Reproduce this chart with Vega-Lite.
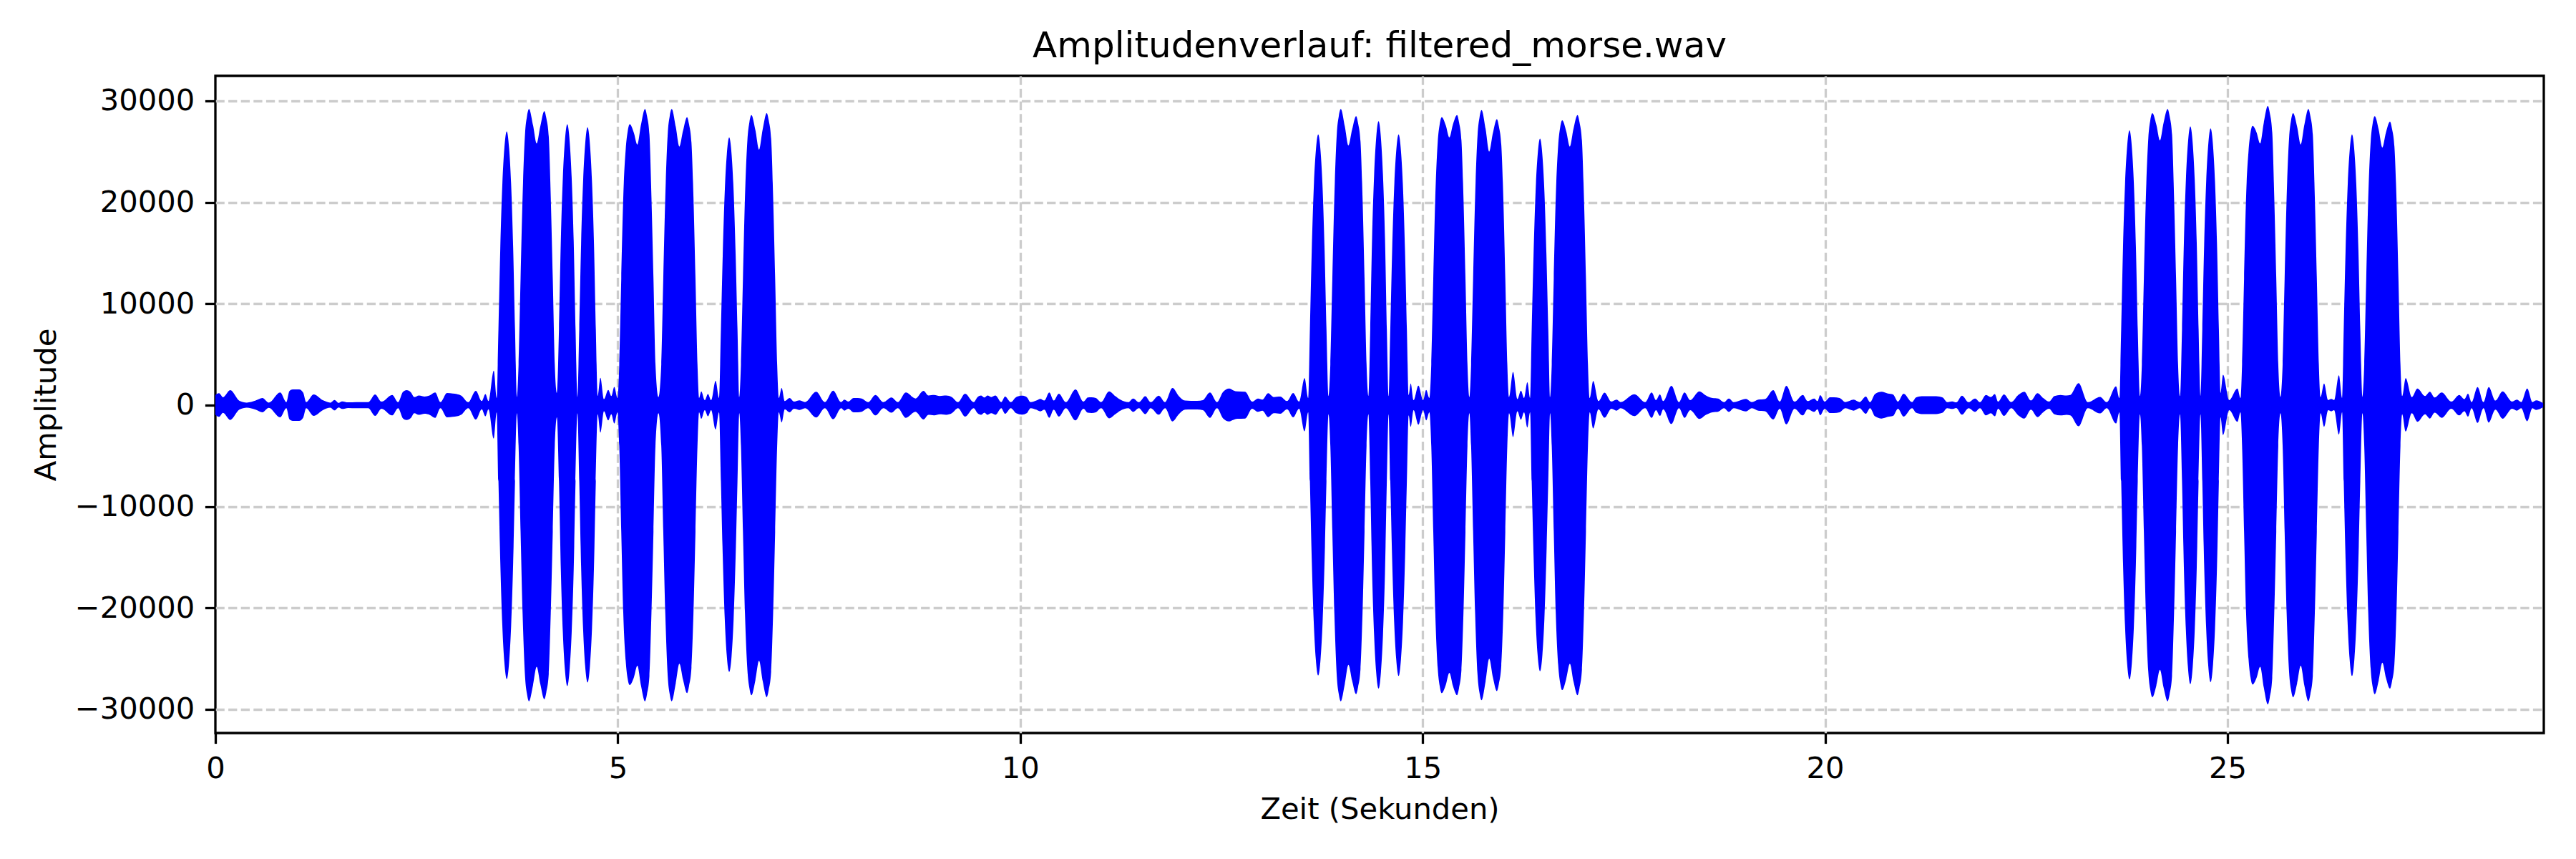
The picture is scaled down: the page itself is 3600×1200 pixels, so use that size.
{
  "$schema": "https://vega.github.io/schema/vega-lite/v6.json",
  "width": 3254,
  "height": 918,
  "autosize": {"type": "none"},
  "padding": {"left": 301, "top": 106, "right": 45, "bottom": 176},
  "background": "white",
  "title": {
    "text": "Amplitudenverlauf: filtered_morse.wav",
    "font": "DejaVu Sans",
    "fontSize": 50,
    "fontWeight": "normal",
    "color": "black",
    "anchor": "middle",
    "frame": "group",
    "baseline": "alphabetic",
    "offset": 25,
    "dy": 49
  },
  "data": {
    "values": [
      {"t": 0.000, "hi": 1000, "lo": -950},
      {"t": 0.045, "hi": 1180, "lo": -1150},
      {"t": 0.095, "hi": 780, "lo": -760},
      {"t": 0.184, "hi": 1480, "lo": -1460},
      {"t": 0.300, "hi": 420, "lo": -430},
      {"t": 0.390, "hi": 250, "lo": -250},
      {"t": 0.500, "hi": 450, "lo": -450},
      {"t": 0.584, "hi": 700, "lo": -700},
      {"t": 0.663, "hi": 250, "lo": -260},
      {"t": 0.805, "hi": 1250, "lo": -1200},
      {"t": 0.882, "hi": 300, "lo": -300},
      {"t": 0.920, "hi": 1400, "lo": -1400},
      {"t": 0.960, "hi": 1550, "lo": -1550},
      {"t": 1.040, "hi": 1550, "lo": -1550},
      {"t": 1.090, "hi": 1250, "lo": -1250},
      {"t": 1.128, "hi": 300, "lo": -300},
      {"t": 1.220, "hi": 1060, "lo": -1060},
      {"t": 1.339, "hi": 470, "lo": -470},
      {"t": 1.427, "hi": 250, "lo": -250},
      {"t": 1.481, "hi": 520, "lo": -520},
      {"t": 1.531, "hi": 230, "lo": -230},
      {"t": 1.575, "hi": 375, "lo": -375},
      {"t": 1.650, "hi": 280, "lo": -280},
      {"t": 1.750, "hi": 300, "lo": -300},
      {"t": 1.900, "hi": 300, "lo": -300},
      {"t": 1.984, "hi": 1060, "lo": -1060},
      {"t": 2.064, "hi": 350, "lo": -350},
      {"t": 2.197, "hi": 1010, "lo": -1010},
      {"t": 2.271, "hi": 300, "lo": -300},
      {"t": 2.330, "hi": 1300, "lo": -1300},
      {"t": 2.375, "hi": 1480, "lo": -1460},
      {"t": 2.430, "hi": 1250, "lo": -1250},
      {"t": 2.470, "hi": 800, "lo": -800},
      {"t": 2.530, "hi": 960, "lo": -960},
      {"t": 2.600, "hi": 850, "lo": -850},
      {"t": 2.660, "hi": 950, "lo": -950},
      {"t": 2.731, "hi": 1250, "lo": -1250},
      {"t": 2.796, "hi": 300, "lo": -300},
      {"t": 2.878, "hi": 1200, "lo": -1200},
      {"t": 2.950, "hi": 1150, "lo": -1150},
      {"t": 3.000, "hi": 1100, "lo": -1100},
      {"t": 3.056, "hi": 940, "lo": -940},
      {"t": 3.142, "hi": 300, "lo": -300},
      {"t": 3.236, "hi": 1420, "lo": -1420},
      {"t": 3.310, "hi": 400, "lo": -400},
      {"t": 3.355, "hi": 1100, "lo": -1100},
      {"t": 3.393, "hi": 400, "lo": -400},
      {"t": 3.459, "hi": 3400, "lo": -3300},
      {"t": 3.495, "hi": 700, "lo": -700},
      {"t": 3.517, "hi": 7500, "lo": -7500},
      {"t": 3.540, "hi": 15500, "lo": -15500},
      {"t": 3.565, "hi": 21700, "lo": -21700},
      {"t": 3.590, "hi": 25300, "lo": -25300},
      {"t": 3.620, "hi": 27000, "lo": -27000},
      {"t": 3.650, "hi": 25300, "lo": -25300},
      {"t": 3.675, "hi": 21700, "lo": -21700},
      {"t": 3.700, "hi": 15500, "lo": -15500},
      {"t": 3.723, "hi": 7500, "lo": -7500},
      {"t": 3.746, "hi": 800, "lo": -800},
      {"t": 3.767, "hi": 4000, "lo": -4000},
      {"t": 3.792, "hi": 12500, "lo": -12500},
      {"t": 3.817, "hi": 20500, "lo": -20500},
      {"t": 3.847, "hi": 26700, "lo": -26700},
      {"t": 3.872, "hi": 28500, "lo": -28500},
      {"t": 3.897, "hi": 29200, "lo": -29200},
      {"t": 3.947, "hi": 27600, "lo": -27600},
      {"t": 3.992, "hi": 25800, "lo": -25800},
      {"t": 4.037, "hi": 27500, "lo": -27500},
      {"t": 4.087, "hi": 29000, "lo": -29000},
      {"t": 4.112, "hi": 28300, "lo": -28300},
      {"t": 4.142, "hi": 26500, "lo": -26500},
      {"t": 4.167, "hi": 20500, "lo": -20500},
      {"t": 4.192, "hi": 12500, "lo": -12500},
      {"t": 4.217, "hi": 4000, "lo": -4000},
      {"t": 4.243, "hi": 1200, "lo": -1200},
      {"t": 4.269, "hi": 7500, "lo": -7500},
      {"t": 4.292, "hi": 16200, "lo": -16200},
      {"t": 4.317, "hi": 22400, "lo": -22400},
      {"t": 4.342, "hi": 26000, "lo": -26000},
      {"t": 4.372, "hi": 27700, "lo": -27700},
      {"t": 4.402, "hi": 26000, "lo": -26000},
      {"t": 4.427, "hi": 22400, "lo": -22400},
      {"t": 4.452, "hi": 16200, "lo": -16200},
      {"t": 4.475, "hi": 7500, "lo": -7500},
      {"t": 4.498, "hi": 800, "lo": -800},
      {"t": 4.521, "hi": 7500, "lo": -7500},
      {"t": 4.544, "hi": 15900, "lo": -15900},
      {"t": 4.569, "hi": 22100, "lo": -22100},
      {"t": 4.594, "hi": 25700, "lo": -25700},
      {"t": 4.624, "hi": 27400, "lo": -27350},
      {"t": 4.654, "hi": 25700, "lo": -25700},
      {"t": 4.679, "hi": 22100, "lo": -22100},
      {"t": 4.704, "hi": 15900, "lo": -15900},
      {"t": 4.727, "hi": 7500, "lo": -7500},
      {"t": 4.750, "hi": 900, "lo": -900},
      {"t": 4.784, "hi": 2700, "lo": -2700},
      {"t": 4.828, "hi": 600, "lo": -600},
      {"t": 4.881, "hi": 1500, "lo": -1500},
      {"t": 4.920, "hi": 900, "lo": -900},
      {"t": 4.956, "hi": 1800, "lo": -1800},
      {"t": 4.996, "hi": 700, "lo": -700},
      {"t": 5.018, "hi": 4000, "lo": -4000},
      {"t": 5.043, "hi": 12500, "lo": -12500},
      {"t": 5.068, "hi": 20500, "lo": -20500},
      {"t": 5.098, "hi": 25200, "lo": -25200},
      {"t": 5.123, "hi": 27000, "lo": -27000},
      {"t": 5.148, "hi": 27700, "lo": -27600},
      {"t": 5.198, "hi": 26900, "lo": -26900},
      {"t": 5.243, "hi": 25700, "lo": -25700},
      {"t": 5.288, "hi": 27650, "lo": -27650},
      {"t": 5.338, "hi": 29200, "lo": -29200},
      {"t": 5.363, "hi": 28500, "lo": -28500},
      {"t": 5.393, "hi": 26700, "lo": -26700},
      {"t": 5.418, "hi": 20500, "lo": -20500},
      {"t": 5.443, "hi": 12500, "lo": -12500},
      {"t": 5.468, "hi": 4000, "lo": -4000},
      {"t": 5.505, "hi": 800, "lo": -800},
      {"t": 5.540, "hi": 4000, "lo": -4000},
      {"t": 5.565, "hi": 12500, "lo": -12500},
      {"t": 5.590, "hi": 20500, "lo": -20500},
      {"t": 5.620, "hi": 26700, "lo": -26700},
      {"t": 5.645, "hi": 28500, "lo": -28500},
      {"t": 5.670, "hi": 29200, "lo": -29200},
      {"t": 5.720, "hi": 27450, "lo": -27450},
      {"t": 5.765, "hi": 25500, "lo": -25500},
      {"t": 5.810, "hi": 27050, "lo": -27050},
      {"t": 5.860, "hi": 28400, "lo": -28400},
      {"t": 5.885, "hi": 27700, "lo": -27700},
      {"t": 5.915, "hi": 25900, "lo": -25900},
      {"t": 5.940, "hi": 20500, "lo": -20500},
      {"t": 5.965, "hi": 12500, "lo": -12500},
      {"t": 5.990, "hi": 4000, "lo": -4000},
      {"t": 6.010, "hi": 700, "lo": -700},
      {"t": 6.037, "hi": 1350, "lo": -1350},
      {"t": 6.080, "hi": 500, "lo": -500},
      {"t": 6.120, "hi": 1100, "lo": -1100},
      {"t": 6.160, "hi": 500, "lo": -500},
      {"t": 6.215, "hi": 2400, "lo": -2400},
      {"t": 6.258, "hi": 700, "lo": -700},
      {"t": 6.281, "hi": 7500, "lo": -7500},
      {"t": 6.304, "hi": 14900, "lo": -14900},
      {"t": 6.329, "hi": 21100, "lo": -21100},
      {"t": 6.354, "hi": 24700, "lo": -24700},
      {"t": 6.384, "hi": 26400, "lo": -26300},
      {"t": 6.414, "hi": 24700, "lo": -24700},
      {"t": 6.439, "hi": 21100, "lo": -21100},
      {"t": 6.464, "hi": 14900, "lo": -14900},
      {"t": 6.487, "hi": 7500, "lo": -7500},
      {"t": 6.509, "hi": 800, "lo": -800},
      {"t": 6.530, "hi": 4000, "lo": -4000},
      {"t": 6.555, "hi": 12500, "lo": -12500},
      {"t": 6.580, "hi": 20500, "lo": -20500},
      {"t": 6.610, "hi": 26100, "lo": -26100},
      {"t": 6.635, "hi": 27900, "lo": -27900},
      {"t": 6.660, "hi": 28600, "lo": -28600},
      {"t": 6.710, "hi": 27100, "lo": -27100},
      {"t": 6.755, "hi": 25200, "lo": -25200},
      {"t": 6.800, "hi": 27200, "lo": -27200},
      {"t": 6.850, "hi": 28800, "lo": -28800},
      {"t": 6.875, "hi": 28100, "lo": -28100},
      {"t": 6.905, "hi": 26300, "lo": -26300},
      {"t": 6.930, "hi": 20500, "lo": -20500},
      {"t": 6.955, "hi": 12500, "lo": -12500},
      {"t": 6.980, "hi": 4000, "lo": -4000},
      {"t": 7.000, "hi": 700, "lo": -700},
      {"t": 7.036, "hi": 1700, "lo": -1700},
      {"t": 7.075, "hi": 400, "lo": -400},
      {"t": 7.134, "hi": 700, "lo": -700},
      {"t": 7.190, "hi": 350, "lo": -350},
      {"t": 7.260, "hi": 470, "lo": -470},
      {"t": 7.326, "hi": 300, "lo": -300},
      {"t": 7.465, "hi": 1320, "lo": -1220},
      {"t": 7.573, "hi": 300, "lo": -300},
      {"t": 7.676, "hi": 1430, "lo": -1380},
      {"t": 7.776, "hi": 300, "lo": -300},
      {"t": 7.815, "hi": 540, "lo": -540},
      {"t": 7.863, "hi": 350, "lo": -350},
      {"t": 7.930, "hi": 700, "lo": -700},
      {"t": 7.982, "hi": 700, "lo": -700},
      {"t": 8.030, "hi": 650, "lo": -650},
      {"t": 8.110, "hi": 300, "lo": -300},
      {"t": 8.201, "hi": 1010, "lo": -1010},
      {"t": 8.301, "hi": 300, "lo": -300},
      {"t": 8.400, "hi": 750, "lo": -750},
      {"t": 8.479, "hi": 300, "lo": -300},
      {"t": 8.579, "hi": 1250, "lo": -1250},
      {"t": 8.698, "hi": 660, "lo": -660},
      {"t": 8.798, "hi": 1410, "lo": -1410},
      {"t": 8.860, "hi": 950, "lo": -950},
      {"t": 8.930, "hi": 1000, "lo": -1000},
      {"t": 9.000, "hi": 900, "lo": -900},
      {"t": 9.080, "hi": 950, "lo": -950},
      {"t": 9.150, "hi": 800, "lo": -800},
      {"t": 9.227, "hi": 300, "lo": -300},
      {"t": 9.315, "hi": 1130, "lo": -1130},
      {"t": 9.422, "hi": 300, "lo": -300},
      {"t": 9.470, "hi": 800, "lo": -800},
      {"t": 9.514, "hi": 950, "lo": -950},
      {"t": 9.555, "hi": 750, "lo": -750},
      {"t": 9.593, "hi": 950, "lo": -950},
      {"t": 9.640, "hi": 800, "lo": -800},
      {"t": 9.693, "hi": 950, "lo": -950},
      {"t": 9.764, "hi": 300, "lo": -300},
      {"t": 9.812, "hi": 850, "lo": -850},
      {"t": 9.883, "hi": 300, "lo": -300},
      {"t": 9.950, "hi": 800, "lo": -800},
      {"t": 10.023, "hi": 940, "lo": -940},
      {"t": 10.080, "hi": 800, "lo": -800},
      {"t": 10.130, "hi": 300, "lo": -300},
      {"t": 10.200, "hi": 450, "lo": -450},
      {"t": 10.249, "hi": 610, "lo": -610},
      {"t": 10.300, "hi": 450, "lo": -450},
      {"t": 10.361, "hi": 1250, "lo": -1250},
      {"t": 10.416, "hi": 450, "lo": -450},
      {"t": 10.480, "hi": 1130, "lo": -1130},
      {"t": 10.567, "hi": 300, "lo": -300},
      {"t": 10.687, "hi": 1550, "lo": -1500},
      {"t": 10.786, "hi": 350, "lo": -350},
      {"t": 10.840, "hi": 750, "lo": -750},
      {"t": 10.886, "hi": 775, "lo": -775},
      {"t": 10.940, "hi": 700, "lo": -700},
      {"t": 11.005, "hi": 300, "lo": -300},
      {"t": 11.104, "hi": 1360, "lo": -1300},
      {"t": 11.180, "hi": 900, "lo": -900},
      {"t": 11.244, "hi": 540, "lo": -540},
      {"t": 11.343, "hi": 300, "lo": -300},
      {"t": 11.403, "hi": 660, "lo": -660},
      {"t": 11.474, "hi": 300, "lo": -300},
      {"t": 11.554, "hi": 890, "lo": -890},
      {"t": 11.621, "hi": 300, "lo": -300},
      {"t": 11.721, "hi": 940, "lo": -940},
      {"t": 11.800, "hi": 300, "lo": -300},
      {"t": 11.892, "hi": 1690, "lo": -1600},
      {"t": 11.970, "hi": 900, "lo": -900},
      {"t": 12.047, "hi": 450, "lo": -450},
      {"t": 12.120, "hi": 420, "lo": -420},
      {"t": 12.198, "hi": 420, "lo": -420},
      {"t": 12.270, "hi": 500, "lo": -500},
      {"t": 12.357, "hi": 1250, "lo": -1250},
      {"t": 12.445, "hi": 300, "lo": -300},
      {"t": 12.520, "hi": 1300, "lo": -1300},
      {"t": 12.596, "hi": 1645, "lo": -1600},
      {"t": 12.650, "hi": 1450, "lo": -1450},
      {"t": 12.695, "hi": 1350, "lo": -1350},
      {"t": 12.795, "hi": 1320, "lo": -1320},
      {"t": 12.882, "hi": 350, "lo": -350},
      {"t": 12.954, "hi": 660, "lo": -660},
      {"t": 13.010, "hi": 550, "lo": -550},
      {"t": 13.080, "hi": 1180, "lo": -1180},
      {"t": 13.150, "hi": 800, "lo": -800},
      {"t": 13.230, "hi": 850, "lo": -850},
      {"t": 13.316, "hi": 400, "lo": -400},
      {"t": 13.391, "hi": 1200, "lo": -1200},
      {"t": 13.465, "hi": 350, "lo": -350},
      {"t": 13.533, "hi": 2670, "lo": -2580},
      {"t": 13.578, "hi": 700, "lo": -700},
      {"t": 13.599, "hi": 7500, "lo": -7500},
      {"t": 13.622, "hi": 15200, "lo": -15200},
      {"t": 13.647, "hi": 21400, "lo": -21400},
      {"t": 13.672, "hi": 25000, "lo": -25000},
      {"t": 13.702, "hi": 26700, "lo": -26650},
      {"t": 13.732, "hi": 25000, "lo": -25000},
      {"t": 13.757, "hi": 21400, "lo": -21400},
      {"t": 13.782, "hi": 15200, "lo": -15200},
      {"t": 13.805, "hi": 7500, "lo": -7500},
      {"t": 13.830, "hi": 900, "lo": -900},
      {"t": 13.853, "hi": 4000, "lo": -4000},
      {"t": 13.878, "hi": 12500, "lo": -12500},
      {"t": 13.903, "hi": 20500, "lo": -20500},
      {"t": 13.933, "hi": 26700, "lo": -26700},
      {"t": 13.958, "hi": 28500, "lo": -28500},
      {"t": 13.983, "hi": 29200, "lo": -29200},
      {"t": 14.033, "hi": 27500, "lo": -27500},
      {"t": 14.078, "hi": 25600, "lo": -25600},
      {"t": 14.123, "hi": 27150, "lo": -27150},
      {"t": 14.173, "hi": 28500, "lo": -28500},
      {"t": 14.198, "hi": 27800, "lo": -27800},
      {"t": 14.228, "hi": 26000, "lo": -26000},
      {"t": 14.253, "hi": 20500, "lo": -20500},
      {"t": 14.278, "hi": 12500, "lo": -12500},
      {"t": 14.303, "hi": 4000, "lo": -4000},
      {"t": 14.326, "hi": 900, "lo": -900},
      {"t": 14.349, "hi": 7500, "lo": -7500},
      {"t": 14.372, "hi": 16500, "lo": -16500},
      {"t": 14.397, "hi": 22700, "lo": -22700},
      {"t": 14.422, "hi": 26300, "lo": -26300},
      {"t": 14.452, "hi": 28000, "lo": -27960},
      {"t": 14.482, "hi": 26300, "lo": -26300},
      {"t": 14.507, "hi": 22700, "lo": -22700},
      {"t": 14.532, "hi": 16500, "lo": -16500},
      {"t": 14.555, "hi": 7500, "lo": -7500},
      {"t": 14.577, "hi": 900, "lo": -900},
      {"t": 14.598, "hi": 7500, "lo": -7500},
      {"t": 14.621, "hi": 15200, "lo": -15200},
      {"t": 14.646, "hi": 21400, "lo": -21400},
      {"t": 14.671, "hi": 25000, "lo": -25000},
      {"t": 14.701, "hi": 26700, "lo": -26700},
      {"t": 14.731, "hi": 25000, "lo": -25000},
      {"t": 14.756, "hi": 21400, "lo": -21400},
      {"t": 14.781, "hi": 15200, "lo": -15200},
      {"t": 14.804, "hi": 7500, "lo": -7500},
      {"t": 14.826, "hi": 1000, "lo": -1000},
      {"t": 14.852, "hi": 2130, "lo": -2130},
      {"t": 14.887, "hi": 500, "lo": -500},
      {"t": 14.947, "hi": 1930, "lo": -1930},
      {"t": 15.006, "hi": 500, "lo": -500},
      {"t": 15.044, "hi": 1500, "lo": -1500},
      {"t": 15.084, "hi": 700, "lo": -700},
      {"t": 15.107, "hi": 4000, "lo": -4000},
      {"t": 15.132, "hi": 12500, "lo": -12500},
      {"t": 15.157, "hi": 20500, "lo": -20500},
      {"t": 15.187, "hi": 25900, "lo": -25900},
      {"t": 15.212, "hi": 27700, "lo": -27700},
      {"t": 15.237, "hi": 28400, "lo": -28400},
      {"t": 15.287, "hi": 27600, "lo": -27600},
      {"t": 15.332, "hi": 26400, "lo": -26400},
      {"t": 15.377, "hi": 27700, "lo": -27700},
      {"t": 15.427, "hi": 28600, "lo": -28600},
      {"t": 15.452, "hi": 27900, "lo": -27900},
      {"t": 15.482, "hi": 26100, "lo": -26100},
      {"t": 15.507, "hi": 20500, "lo": -20500},
      {"t": 15.532, "hi": 12500, "lo": -12500},
      {"t": 15.557, "hi": 4000, "lo": -4000},
      {"t": 15.580, "hi": 800, "lo": -800},
      {"t": 15.602, "hi": 4000, "lo": -4000},
      {"t": 15.627, "hi": 12500, "lo": -12500},
      {"t": 15.652, "hi": 20500, "lo": -20500},
      {"t": 15.682, "hi": 26600, "lo": -26600},
      {"t": 15.707, "hi": 28400, "lo": -28400},
      {"t": 15.732, "hi": 29100, "lo": -29100},
      {"t": 15.782, "hi": 27250, "lo": -27250},
      {"t": 15.827, "hi": 25000, "lo": -25000},
      {"t": 15.872, "hi": 26800, "lo": -26800},
      {"t": 15.922, "hi": 28200, "lo": -28200},
      {"t": 15.947, "hi": 27500, "lo": -27500},
      {"t": 15.977, "hi": 25700, "lo": -25700},
      {"t": 16.002, "hi": 20500, "lo": -20500},
      {"t": 16.027, "hi": 12500, "lo": -12500},
      {"t": 16.052, "hi": 4000, "lo": -4000},
      {"t": 16.074, "hi": 800, "lo": -800},
      {"t": 16.123, "hi": 3280, "lo": -3160},
      {"t": 16.177, "hi": 600, "lo": -600},
      {"t": 16.221, "hi": 1430, "lo": -1430},
      {"t": 16.260, "hi": 700, "lo": -700},
      {"t": 16.301, "hi": 2250, "lo": -2200},
      {"t": 16.335, "hi": 700, "lo": -700},
      {"t": 16.355, "hi": 7500, "lo": -7500},
      {"t": 16.378, "hi": 14800, "lo": -14800},
      {"t": 16.403, "hi": 21000, "lo": -21000},
      {"t": 16.428, "hi": 24600, "lo": -24600},
      {"t": 16.458, "hi": 26300, "lo": -26240},
      {"t": 16.488, "hi": 24600, "lo": -24600},
      {"t": 16.513, "hi": 21000, "lo": -21000},
      {"t": 16.538, "hi": 14800, "lo": -14800},
      {"t": 16.561, "hi": 7500, "lo": -7500},
      {"t": 16.583, "hi": 800, "lo": -800},
      {"t": 16.604, "hi": 4000, "lo": -4000},
      {"t": 16.629, "hi": 12500, "lo": -12500},
      {"t": 16.654, "hi": 20500, "lo": -20500},
      {"t": 16.684, "hi": 25600, "lo": -25600},
      {"t": 16.709, "hi": 27400, "lo": -27400},
      {"t": 16.734, "hi": 28100, "lo": -28100},
      {"t": 16.784, "hi": 27000, "lo": -27000},
      {"t": 16.829, "hi": 25500, "lo": -25500},
      {"t": 16.874, "hi": 27250, "lo": -27250},
      {"t": 16.924, "hi": 28600, "lo": -28600},
      {"t": 16.949, "hi": 27900, "lo": -27900},
      {"t": 16.979, "hi": 26100, "lo": -26100},
      {"t": 17.004, "hi": 20500, "lo": -20500},
      {"t": 17.029, "hi": 12500, "lo": -12500},
      {"t": 17.054, "hi": 4000, "lo": -4000},
      {"t": 17.076, "hi": 700, "lo": -700},
      {"t": 17.119, "hi": 2380, "lo": -2300},
      {"t": 17.184, "hi": 400, "lo": -400},
      {"t": 17.260, "hi": 1240, "lo": -1240},
      {"t": 17.345, "hi": 350, "lo": -350},
      {"t": 17.410, "hi": 540, "lo": -540},
      {"t": 17.459, "hi": 300, "lo": -300},
      {"t": 17.630, "hi": 1080, "lo": -1080},
      {"t": 17.765, "hi": 300, "lo": -300},
      {"t": 17.846, "hi": 1250, "lo": -1250},
      {"t": 17.899, "hi": 500, "lo": -500},
      {"t": 17.948, "hi": 1060, "lo": -1060},
      {"t": 17.989, "hi": 400, "lo": -400},
      {"t": 18.091, "hi": 1900, "lo": -1860},
      {"t": 18.185, "hi": 300, "lo": -300},
      {"t": 18.254, "hi": 1250, "lo": -1250},
      {"t": 18.324, "hi": 500, "lo": -500},
      {"t": 18.438, "hi": 1360, "lo": -1360},
      {"t": 18.520, "hi": 950, "lo": -950},
      {"t": 18.601, "hi": 700, "lo": -700},
      {"t": 18.670, "hi": 650, "lo": -650},
      {"t": 18.744, "hi": 300, "lo": -300},
      {"t": 18.805, "hi": 660, "lo": -660},
      {"t": 18.866, "hi": 300, "lo": -300},
      {"t": 19.017, "hi": 610, "lo": -610},
      {"t": 19.090, "hi": 300, "lo": -300},
      {"t": 19.170, "hi": 540, "lo": -540},
      {"t": 19.254, "hi": 600, "lo": -600},
      {"t": 19.356, "hi": 1480, "lo": -1410},
      {"t": 19.437, "hi": 350, "lo": -350},
      {"t": 19.519, "hi": 1900, "lo": -1880},
      {"t": 19.621, "hi": 350, "lo": -350},
      {"t": 19.723, "hi": 1010, "lo": -1010},
      {"t": 19.784, "hi": 400, "lo": -400},
      {"t": 19.865, "hi": 660, "lo": -660},
      {"t": 19.906, "hi": 400, "lo": -400},
      {"t": 19.939, "hi": 990, "lo": -990},
      {"t": 19.996, "hi": 350, "lo": -350},
      {"t": 20.060, "hi": 775, "lo": -775},
      {"t": 20.110, "hi": 775, "lo": -775},
      {"t": 20.180, "hi": 700, "lo": -700},
      {"t": 20.253, "hi": 300, "lo": -300},
      {"t": 20.355, "hi": 540, "lo": -540},
      {"t": 20.428, "hi": 300, "lo": -300},
      {"t": 20.506, "hi": 850, "lo": -850},
      {"t": 20.559, "hi": 300, "lo": -300},
      {"t": 20.620, "hi": 1100, "lo": -1100},
      {"t": 20.702, "hi": 1320, "lo": -1320},
      {"t": 20.780, "hi": 1150, "lo": -1150},
      {"t": 20.844, "hi": 1060, "lo": -1060},
      {"t": 20.906, "hi": 350, "lo": -350},
      {"t": 20.975, "hi": 1130, "lo": -1130},
      {"t": 21.081, "hi": 300, "lo": -300},
      {"t": 21.130, "hi": 750, "lo": -750},
      {"t": 21.200, "hi": 880, "lo": -880},
      {"t": 21.293, "hi": 890, "lo": -890},
      {"t": 21.380, "hi": 880, "lo": -880},
      {"t": 21.460, "hi": 750, "lo": -750},
      {"t": 21.517, "hi": 300, "lo": -300},
      {"t": 21.579, "hi": 375, "lo": -375},
      {"t": 21.630, "hi": 280, "lo": -280},
      {"t": 21.701, "hi": 940, "lo": -940},
      {"t": 21.783, "hi": 300, "lo": -300},
      {"t": 21.864, "hi": 660, "lo": -660},
      {"t": 21.925, "hi": 300, "lo": -300},
      {"t": 21.999, "hi": 1010, "lo": -1010},
      {"t": 22.060, "hi": 800, "lo": -800},
      {"t": 22.109, "hi": 1100, "lo": -1100},
      {"t": 22.150, "hi": 350, "lo": -350},
      {"t": 22.223, "hi": 1060, "lo": -1060},
      {"t": 22.313, "hi": 300, "lo": -300},
      {"t": 22.400, "hi": 1000, "lo": -1000},
      {"t": 22.476, "hi": 1320, "lo": -1320},
      {"t": 22.558, "hi": 450, "lo": -450},
      {"t": 22.639, "hi": 1175, "lo": -1175},
      {"t": 22.710, "hi": 700, "lo": -700},
      {"t": 22.782, "hi": 350, "lo": -350},
      {"t": 22.850, "hi": 900, "lo": -900},
      {"t": 22.925, "hi": 1010, "lo": -1010},
      {"t": 23.000, "hi": 950, "lo": -950},
      {"t": 23.047, "hi": 1000, "lo": -1000},
      {"t": 23.150, "hi": 2170, "lo": -2080},
      {"t": 23.265, "hi": 300, "lo": -300},
      {"t": 23.417, "hi": 820, "lo": -820},
      {"t": 23.500, "hi": 300, "lo": -300},
      {"t": 23.615, "hi": 1850, "lo": -1800},
      {"t": 23.657, "hi": 700, "lo": -700},
      {"t": 23.679, "hi": 7500, "lo": -7500},
      {"t": 23.702, "hi": 15600, "lo": -15600},
      {"t": 23.727, "hi": 21800, "lo": -21800},
      {"t": 23.752, "hi": 25400, "lo": -25400},
      {"t": 23.782, "hi": 27100, "lo": -27060},
      {"t": 23.812, "hi": 25400, "lo": -25400},
      {"t": 23.837, "hi": 21800, "lo": -21800},
      {"t": 23.862, "hi": 15600, "lo": -15600},
      {"t": 23.885, "hi": 7500, "lo": -7500},
      {"t": 23.912, "hi": 900, "lo": -900},
      {"t": 23.936, "hi": 4000, "lo": -4000},
      {"t": 23.961, "hi": 12500, "lo": -12500},
      {"t": 23.986, "hi": 20500, "lo": -20500},
      {"t": 24.016, "hi": 26300, "lo": -26300},
      {"t": 24.041, "hi": 28100, "lo": -28100},
      {"t": 24.066, "hi": 28800, "lo": -28800},
      {"t": 24.116, "hi": 27650, "lo": -27650},
      {"t": 24.161, "hi": 26100, "lo": -26100},
      {"t": 24.206, "hi": 27850, "lo": -27850},
      {"t": 24.256, "hi": 29200, "lo": -29200},
      {"t": 24.281, "hi": 28500, "lo": -28500},
      {"t": 24.311, "hi": 26700, "lo": -26700},
      {"t": 24.336, "hi": 20500, "lo": -20500},
      {"t": 24.361, "hi": 12500, "lo": -12500},
      {"t": 24.386, "hi": 4000, "lo": -4000},
      {"t": 24.410, "hi": 900, "lo": -900},
      {"t": 24.435, "hi": 7500, "lo": -7500},
      {"t": 24.458, "hi": 16000, "lo": -16000},
      {"t": 24.483, "hi": 22200, "lo": -22200},
      {"t": 24.508, "hi": 25800, "lo": -25800},
      {"t": 24.538, "hi": 27500, "lo": -27500},
      {"t": 24.568, "hi": 25800, "lo": -25800},
      {"t": 24.593, "hi": 22200, "lo": -22200},
      {"t": 24.618, "hi": 16000, "lo": -16000},
      {"t": 24.641, "hi": 7500, "lo": -7500},
      {"t": 24.664, "hi": 900, "lo": -900},
      {"t": 24.687, "hi": 7500, "lo": -7500},
      {"t": 24.710, "hi": 15800, "lo": -15800},
      {"t": 24.735, "hi": 22000, "lo": -22000},
      {"t": 24.760, "hi": 25600, "lo": -25600},
      {"t": 24.790, "hi": 27300, "lo": -27300},
      {"t": 24.820, "hi": 25600, "lo": -25600},
      {"t": 24.845, "hi": 22000, "lo": -22000},
      {"t": 24.870, "hi": 15800, "lo": -15800},
      {"t": 24.893, "hi": 7500, "lo": -7500},
      {"t": 24.913, "hi": 1200, "lo": -1200},
      {"t": 24.945, "hi": 3000, "lo": -2950},
      {"t": 25.021, "hi": 500, "lo": -500},
      {"t": 25.124, "hi": 1640, "lo": -1640},
      {"t": 25.161, "hi": 700, "lo": -700},
      {"t": 25.181, "hi": 4000, "lo": -4000},
      {"t": 25.206, "hi": 12500, "lo": -12500},
      {"t": 25.231, "hi": 20500, "lo": -20500},
      {"t": 25.261, "hi": 25000, "lo": -25000},
      {"t": 25.286, "hi": 26850, "lo": -26850},
      {"t": 25.311, "hi": 27550, "lo": -27550},
      {"t": 25.361, "hi": 26900, "lo": -26900},
      {"t": 25.406, "hi": 25800, "lo": -25800},
      {"t": 25.451, "hi": 27850, "lo": -27850},
      {"t": 25.501, "hi": 29500, "lo": -29500},
      {"t": 25.526, "hi": 28800, "lo": -28800},
      {"t": 25.556, "hi": 26900, "lo": -26900},
      {"t": 25.581, "hi": 20500, "lo": -20500},
      {"t": 25.606, "hi": 12500, "lo": -12500},
      {"t": 25.631, "hi": 4000, "lo": -4000},
      {"t": 25.658, "hi": 800, "lo": -800},
      {"t": 25.685, "hi": 4000, "lo": -4000},
      {"t": 25.710, "hi": 12500, "lo": -12500},
      {"t": 25.735, "hi": 20500, "lo": -20500},
      {"t": 25.765, "hi": 26300, "lo": -26300},
      {"t": 25.790, "hi": 28100, "lo": -28100},
      {"t": 25.815, "hi": 28800, "lo": -28800},
      {"t": 25.865, "hi": 27450, "lo": -27450},
      {"t": 25.910, "hi": 25700, "lo": -25700},
      {"t": 25.955, "hi": 27650, "lo": -27650},
      {"t": 26.005, "hi": 29200, "lo": -29200},
      {"t": 26.030, "hi": 28500, "lo": -28500},
      {"t": 26.060, "hi": 26700, "lo": -26700},
      {"t": 26.085, "hi": 20500, "lo": -20500},
      {"t": 26.110, "hi": 12500, "lo": -12500},
      {"t": 26.135, "hi": 4000, "lo": -4000},
      {"t": 26.157, "hi": 800, "lo": -800},
      {"t": 26.200, "hi": 2130, "lo": -2130},
      {"t": 26.251, "hi": 500, "lo": -500},
      {"t": 26.289, "hi": 615, "lo": -615},
      {"t": 26.325, "hi": 500, "lo": -500},
      {"t": 26.384, "hi": 2950, "lo": -2900},
      {"t": 26.424, "hi": 700, "lo": -700},
      {"t": 26.444, "hi": 7500, "lo": -7500},
      {"t": 26.467, "hi": 15200, "lo": -15200},
      {"t": 26.492, "hi": 21400, "lo": -21400},
      {"t": 26.517, "hi": 25000, "lo": -25000},
      {"t": 26.547, "hi": 26700, "lo": -26700},
      {"t": 26.577, "hi": 25000, "lo": -25000},
      {"t": 26.602, "hi": 21400, "lo": -21400},
      {"t": 26.627, "hi": 15200, "lo": -15200},
      {"t": 26.650, "hi": 7500, "lo": -7500},
      {"t": 26.676, "hi": 800, "lo": -800},
      {"t": 26.699, "hi": 4000, "lo": -4000},
      {"t": 26.724, "hi": 12500, "lo": -12500},
      {"t": 26.749, "hi": 20500, "lo": -20500},
      {"t": 26.779, "hi": 26000, "lo": -26000},
      {"t": 26.804, "hi": 27800, "lo": -27800},
      {"t": 26.829, "hi": 28500, "lo": -28500},
      {"t": 26.879, "hi": 27150, "lo": -27150},
      {"t": 26.924, "hi": 25400, "lo": -25400},
      {"t": 26.969, "hi": 26900, "lo": -26900},
      {"t": 27.019, "hi": 27950, "lo": -27950},
      {"t": 27.044, "hi": 27250, "lo": -27250},
      {"t": 27.074, "hi": 25500, "lo": -25500},
      {"t": 27.099, "hi": 20500, "lo": -20500},
      {"t": 27.124, "hi": 12500, "lo": -12500},
      {"t": 27.149, "hi": 4000, "lo": -4000},
      {"t": 27.170, "hi": 900, "lo": -900},
      {"t": 27.214, "hi": 2670, "lo": -2600},
      {"t": 27.290, "hi": 800, "lo": -800},
      {"t": 27.360, "hi": 1645, "lo": -1645},
      {"t": 27.455, "hi": 900, "lo": -900},
      {"t": 27.514, "hi": 1320, "lo": -1320},
      {"t": 27.574, "hi": 750, "lo": -750},
      {"t": 27.662, "hi": 1250, "lo": -1250},
      {"t": 27.781, "hi": 350, "lo": -350},
      {"t": 27.879, "hi": 1010, "lo": -1010},
      {"t": 27.944, "hi": 600, "lo": -600},
      {"t": 27.988, "hi": 1130, "lo": -1130},
      {"t": 28.033, "hi": 300, "lo": -300},
      {"t": 28.107, "hi": 1790, "lo": -1750},
      {"t": 28.181, "hi": 300, "lo": -300},
      {"t": 28.246, "hi": 1790, "lo": -1720},
      {"t": 28.329, "hi": 450, "lo": -450},
      {"t": 28.418, "hi": 1360, "lo": -1340},
      {"t": 28.537, "hi": 350, "lo": -350},
      {"t": 28.596, "hi": 540, "lo": -540},
      {"t": 28.649, "hi": 300, "lo": -300},
      {"t": 28.724, "hi": 1645, "lo": -1580},
      {"t": 28.789, "hi": 300, "lo": -300},
      {"t": 28.833, "hi": 470, "lo": -470},
      {"t": 28.922, "hi": 200, "lo": -200}
    ]
  },
  "mark": {"type": "area", "color": "#0000ff", "opacity": 1, "interpolate": "monotone"},
  "encoding": {
    "x": {
      "field": "t",
      "type": "quantitative",
      "scale": {"domain": [0, 28.93], "nice": false, "zero": false},
      "axis": {
        "title": "Zeit (Sekunden)",
        "values": [0, 5, 10, 15, 20, 25],
        "format": "d",
        "labelFlush": false,
        "gridColor": {"condition": {"test": "datum.value === 0", "value": "transparent"}, "value": "#cccccc"},
        "titleX": 1627,
        "titleY": 119,
        "titleBaseline": "alphabetic"
      }
    },
    "y": {
      "field": "hi",
      "type": "quantitative",
      "scale": {"domain": [-32330, 32470], "nice": false, "zero": false},
      "axis": {
        "title": "Amplitude",
        "values": [-30000, -20000, -10000, 0, 10000, 20000, 30000],
        "format": "d",
        "labelFlush": false,
        "titleX": -224,
        "titleY": 459,
        "titleAlign": "center",
        "titleBaseline": "alphabetic"
      }
    },
    "y2": {"field": "lo"}
  },
  "config": {
    "view": {"stroke": "black", "strokeWidth": 3.3},
    "axis": {
      "domain": false,
      "grid": true,
      "gridColor": "#cccccc",
      "gridDash": [12.3, 5.3],
      "gridWidth": 3.3,
      "ticks": true,
      "tickColor": "black",
      "tickWidth": 3.3,
      "tickSize": 14.6,
      "labelFont": "DejaVu Sans",
      "labelFontSize": 41.7,
      "labelColor": "black",
      "labelPadding": 14.6,
      "labelOverlap": false,
      "titleFont": "DejaVu Sans",
      "titleFontSize": 41.7,
      "titleFontWeight": "normal",
      "titleColor": "black"
    }
  }
}
